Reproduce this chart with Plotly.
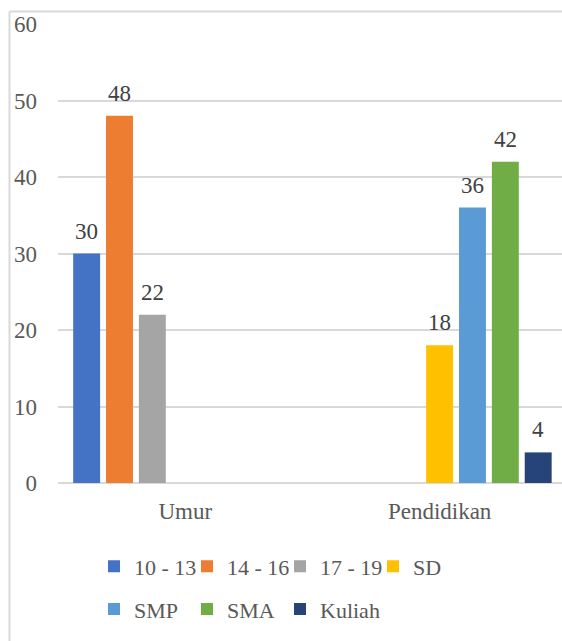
import plotly.graph_objects as go

categories = ["Umur", "Pendidikan"]
series_names = ["10 - 13", "14 - 16", "17 - 19", "SD", "SMP", "SMA", "Kuliah"]
series_values = [
    [30, None],
    [48, None],
    [22, None],
    [None, 18],
    [None, 36],
    [None, 42],
    [None, 4],
]
series_colors = ["#4472C4", "#ED7D31", "#A5A5A5", "#FFC000", "#5B9BD5", "#70AD47", "#264478"]

W, H = 562, 641
ML, MR, MT, MB = 58, 0, 23.5, 157.5
PW = W - ML - MR
PH = H - MT - MB
BARGAP = 0.096
NS = len(series_names)

FONT = "Liberation Serif"
FS = 23

fig = go.Figure()
for i, (name, vals, col) in enumerate(zip(series_names, series_values, series_colors)):
    fig.add_trace(go.Bar(
        name=name, x=categories, y=vals,
        marker=dict(color=col, line=dict(width=0)),
        legend="legend" if i < 4 else "legend2",
        legendwidth=80 if i == NS - 1 else None,
    ))
    slot = (1 - BARGAP) / NS
    off = -(1 - BARGAP) / 2 + (i + 0.5) * slot
    for c, v in enumerate(vals):
        if v is None:
            continue
        fig.add_annotation(x=c + off, y=v, xref="x", yref="y", text=str(v),
                           showarrow=False, yanchor="bottom", yshift=8,
                           font=dict(family=FONT, size=FS, color="#404040"))

def px_x(p):
    return (p - ML) / PW

def px_y(p):
    return (H - MB - p) / PH

border = "#D9D9D9"
fig.add_shape(type="line", xref="paper", yref="paper",
              x0=px_x(9.5), x1=px_x(W + 5), y0=px_y(11), y1=px_y(11),
              line=dict(color=border, width=2))
fig.add_shape(type="line", xref="paper", yref="paper",
              x0=px_x(9.5), x1=px_x(9.5), y0=px_y(11), y1=px_y(H + 5),
              line=dict(color=border, width=2))

leg_common = dict(
    orientation="h", xanchor="left", yanchor="top",
    font=dict(family=FONT, size=22, color="#595959"),
    entrywidth=48, entrywidthmode="pixels",
    itemwidth=30, bgcolor="rgba(0,0,0,0)",
)

fig.update_layout(
    width=W, height=H,
    margin=dict(l=ML, r=MR, t=MT, b=MB, pad=0, autoexpand=False),
    paper_bgcolor="white", plot_bgcolor="white",
    barmode="group", bargap=BARGAP, bargroupgap=0.18,
    font=dict(family=FONT, size=FS, color="#595959"),
    showlegend=True,
    legend=dict(x=px_x(94), y=px_y(546), **leg_common),
    legend2=dict(x=px_x(94), y=px_y(589), **leg_common),
    xaxis=dict(
        range=[-0.5, 1.481], showgrid=False, showline=False, zeroline=False,
        ticks="", tickfont=dict(family=FONT, size=FS, color="#595959"),
        ticklabelstandoff=12,
    ),
    yaxis=dict(
        range=[0, 60], dtick=10, showgrid=True, gridcolor=border, gridwidth=1.5,
        zeroline=True, zerolinecolor=border, zerolinewidth=2,
        showline=False, ticks="",
        tickfont=dict(family=FONT, size=FS, color="#595959"),
        ticklabelstandoff=20,
    ),
)

fig.write_html("out.html")
